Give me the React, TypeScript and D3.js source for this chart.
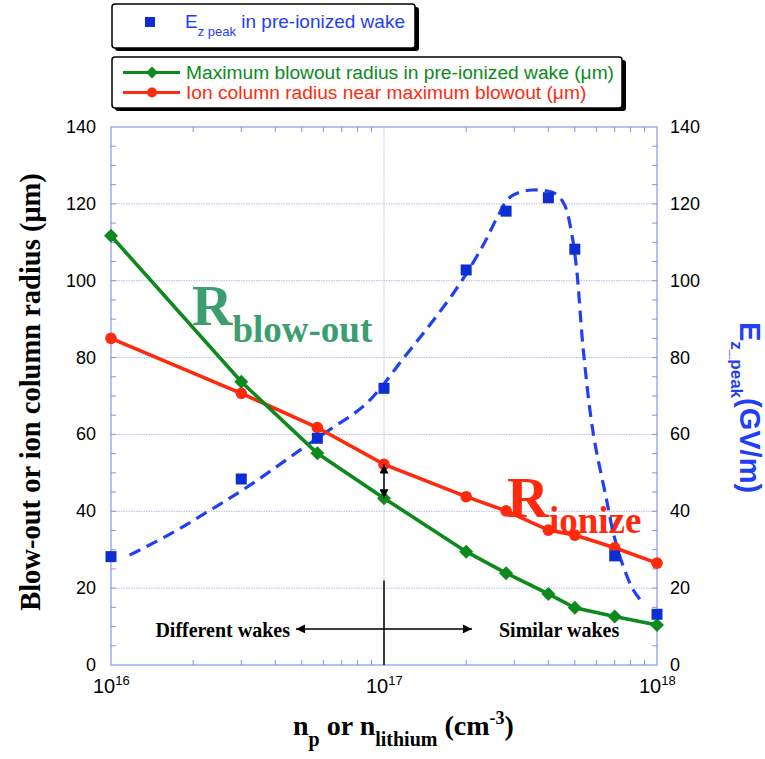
import React from "react";
import * as d3 from "d3";

// ---------- data ----------
const densities = [1e16, 3e16, 5.7e16, 1e17, 2e17, 2.8e17, 4e17, 5e17, 7e17, 1e18];
const blowoutRadius = [111.7, 73.7, 55.1, 43.4, 29.5, 23.9, 18.5, 14.9, 12.6, 10.4];
const ionColumnRadius = [85.0, 70.7, 61.8, 52.2, 43.8, 40.1, 35.1, 33.8, 30.5, 26.5];
const ezPeak = [28.2, 48.4, 59.0, 72.0, 102.8, 118.1, 121.6, 108.2, 28.4, 13.2];

// dashed guide curve through the E_z peak values
const fitDensities = [1.17e16, 1.67e16, 2.31e16, 3.23e16, 4.92e16, 6.17e16, 8.64e16, 1.19e17, 1.52e17, 1.9e17, 2.31e17, 2.6e17, 2.85e17, 3.1e17, 3.5e17, 3.94e17, 4.3e17, 4.6e17, 4.87e17, 5.08e17, 5.37e17, 5.84e17, 6.54e17, 6.92e17, 7.53e17, 8.19e17, 8.91e17];
const fitValues = [28.6, 34.3, 40.3, 46.8, 55.9, 60.7, 68.1, 80.2, 89.8, 99.3, 109.3, 116.5, 121.3, 122.9, 123.6, 123.4, 122.4, 119.5, 112.3, 102.8, 82.0, 60.3, 42.9, 34.3, 25.6, 19.5, 16.0];

const yTickValues = [0, 20, 40, 60, 80, 100, 120, 140];
const gridValues = [20, 40, 60, 80, 100, 120];
const decadeExponents = [16, 17, 18];

const W = 765;
const H = 759;
const PL = 111, PR = 657, PT = 127, PB = 665;

const GREEN = "#0c8a1c";
const RED = "#ff2a0e";
const BLUE = "#1f40f5";
const BLUE_SQ = "#0c2ed2";
const AXIS = "#8a94ea";
const GRID = "#b4bbf0";
const SANS = "'Liberation Sans', Arial, Helvetica, sans-serif";
const SERIF = "'Liberation Serif', 'Times New Roman', serif";

export default function App() {
  const x = d3.scaleLog().domain([1e16, 1e18]).range([PL, PR]);
  const y = d3.scaleLinear().domain([0, 140]).range([PB, PT]);

  const line = d3
    .line<[number, number]>()
    .x((d) => x(d[0]))
    .y((d) => y(d[1]));
  const fitLine = d3
    .line<[number, number]>()
    .x((d) => x(d[0]))
    .y((d) => y(d[1]))
    .curve(d3.curveCatmullRom.alpha(0.5));

  const green: [number, number][] = densities.map((d, i) => [d, blowoutRadius[i]]);
  const red: [number, number][] = densities.map((d, i) => [d, ionColumnRadius[i]]);
  const fit: [number, number][] = fitDensities.map((d, i) => [d, fitValues[i]]);

  // minor x ticks
  const xMinor: number[] = [];
  for (let e = 16; e < 18; e++) for (let m = 2; m <= 9; m++) xMinor.push(m * Math.pow(10, e));
  const yMinor = d3.range(5, 140, 5);

  const diamond = (cx: number, cy: number, r: number) =>
    `M${cx},${cy - r}L${cx + r},${cy}L${cx},${cy + r}L${cx - r},${cy}Z`;

  const arrowX1 = x(4.76e16);
  const arrowX2 = x(2.1e17);
  const arrowY = y(9.4);
  const x17 = x(1e17);

  return (
    <svg
      width={W}
      height={H}
      style={{ position: "absolute", left: 0, top: 0, background: "#fff" }}
      xmlns="http://www.w3.org/2000/svg"
    >
      <defs>
        <marker id="ah" viewBox="0 0 10 10" refX="10" refY="5" markerWidth="11" markerHeight="9" markerUnits="userSpaceOnUse" orient="auto-start-reverse">
          <path d="M0,0L10,5L0,10Z" fill="#000" />
        </marker>
      </defs>

      {/* Legend box 1 */}
      <rect x={115} y={7} width={304} height={44} rx={3} fill="#000" />
      <rect x={112} y={4} width={303} height={44} rx={3} fill="#fff" stroke="#000" strokeWidth={1.5} />
      <rect x={145} y={17} width={10} height={10} fill={BLUE_SQ} />
      <text x={185} y={28} fontFamily={SANS} fontSize={19} fill={BLUE}>
        E<tspan fontSize={13} dy={8}>z peak</tspan>
        <tspan dy={-8}> in pre-ionized wake</tspan>
      </text>

      {/* Legend box 2 */}
      <rect x={115} y={60} width={511} height={51} rx={3} fill="#000" />
      <rect x={112} y={57} width={510} height={51} rx={3} fill="#fff" stroke="#000" strokeWidth={1.5} />
      <line x1={123} x2={180} y1={72.5} y2={72.5} stroke={GREEN} strokeWidth={3} />
      <path d={diamond(152, 72.5, 6)} fill={GREEN} />
      <line x1={123} x2={180} y1={92.5} y2={92.5} stroke={RED} strokeWidth={3} />
      <circle cx={152} cy={92.5} r={5} fill={RED} />
      <text x={186} y={79} fontFamily={SANS} fontSize={19.2} fill={GREEN}>
        Maximum blowout radius in pre-ionized wake (μm)
      </text>
      <text x={186} y={99} fontFamily={SANS} fontSize={19.2} fill={RED}>
        Ion column radius near maximum blowout (μm)
      </text>

      {/* grid */}
      {gridValues.map((v) => (
        <line key={"g" + v} x1={PL} x2={PR} y1={y(v)} y2={y(v)} stroke={GRID} strokeWidth={1} strokeDasharray="1.5 1" />
      ))}
      <line x1={x17} x2={x17} y1={PT} y2={PB} stroke={GRID} strokeWidth={1} strokeDasharray="1.5 1" />

      {/* frame */}
      <rect x={PL} y={PT} width={PR - PL} height={PB - PT} fill="none" stroke={AXIS} strokeWidth={1.2} />
      {yMinor.map((v) => (
        <g key={"ym" + v}>
          <line x1={PL} x2={PL + 5} y1={y(v)} y2={y(v)} stroke={AXIS} strokeWidth={1} />
          <line x1={PR - 5} x2={PR} y1={y(v)} y2={y(v)} stroke={AXIS} strokeWidth={1} />
        </g>
      ))}
      {xMinor.map((v) => (
        <g key={"xm" + v}>
          <line x1={x(v)} x2={x(v)} y1={PB} y2={PB - 5} stroke={AXIS} strokeWidth={1} />
          <line x1={x(v)} x2={x(v)} y1={PT} y2={PT + 5} stroke={AXIS} strokeWidth={1} />
        </g>
      ))}

      {/* tick labels */}
      {yTickValues.map((v) => (
        <g key={"yl" + v}>
          <text x={96} y={y(v) + 6} textAnchor="end" fontFamily={SANS} fontSize={18} fill="#000">
            {v}
          </text>
          <text x={670} y={y(v) + 6} textAnchor="start" fontFamily={SANS} fontSize={18} fill="#000">
            {v}
          </text>
        </g>
      ))}
      {decadeExponents.map((e) => (
        <text key={"xl" + e} x={x(Math.pow(10, e)) - 18} y={693} fontFamily={SANS} fontSize={20} fill="#000">
          10<tspan fontSize={13} dy={-8}>{e}</tspan>
        </text>
      ))}

      {/* axis titles */}
      <text
        transform={`translate(40, 392) rotate(-90)`}
        textAnchor="middle"
        fontFamily={SERIF}
        fontWeight="bold"
        fontSize={28.5}
        fill="#000"
      >
        Blow-out or ion column radius (μm)
      </text>
      <text transform={`translate(740, 322) rotate(90)`} fontFamily={SANS} fontWeight="bold" fontSize={29} fill={BLUE}>
        E<tspan fontSize={17} dy={9}>z_peak</tspan>
        <tspan dy={-9}>(GV/m)</tspan>
      </text>
      <text x={293} y={735} fontFamily={SERIF} fontWeight="bold" fontSize={28} fill="#000">
        n<tspan fontSize={20} dy={11}>p</tspan>
        <tspan dy={-11}> or n</tspan>
        <tspan fontSize={20} dy={11}>lithium</tspan>
        <tspan dy={-11}> (cm</tspan>
        <tspan fontSize={18} dy={-11}>-3</tspan>
        <tspan dy={11}>)</tspan>
      </text>

      {/* big labels */}
      <text x={192} y={325} fontFamily={SERIF} fontWeight="bold" fontSize={56} fill="#3a9e6e">
        R<tspan fontSize={37} dy={17}>blow-out</tspan>
      </text>
      <text x={507} y={517} fontFamily={SERIF} fontWeight="bold" fontSize={58} fill={RED}>
        R<tspan fontSize={37} dy={16}>ionize</tspan>
      </text>

      {/* series */}
      <path d={fitLine(fit) || ""} fill="none" stroke={BLUE} strokeWidth={3.2} strokeDasharray="12 7" />
      <path d={line(red) || ""} fill="none" stroke={RED} strokeWidth={3.6} />
      <path d={line(green) || ""} fill="none" stroke={GREEN} strokeWidth={3.6} />
      {red.map((d, i) => (
        <circle key={"r" + i} cx={x(d[0])} cy={y(d[1])} r={5.8} fill={RED} />
      ))}
      {green.map((d, i) => (
        <path key={"gd" + i} d={diamond(x(d[0]), y(d[1]), 7)} fill={GREEN} />
      ))}
      {densities.map((d, i) => (
        <rect key={"b" + i} x={x(d) - 5.5} y={y(ezPeak[i]) - 5.5} width={11} height={11} fill={BLUE_SQ} />
      ))}

      {/* annotations */}
      <line x1={x17} x2={x17} y1={y(ionColumnRadius[3])} y2={y(blowoutRadius[3])} stroke="#000" strokeWidth={1.5} markerStart="url(#ah)" markerEnd="url(#ah)" />
      <line x1={x17} x2={x17} y1={y(22)} y2={PB} stroke="#000" strokeWidth={1.5} />
      <line x1={arrowX1} x2={arrowX2} y1={arrowY} y2={arrowY} stroke="#000" strokeWidth={1.5} markerStart="url(#ah)" markerEnd="url(#ah)" />
      <text x={290} y={637} textAnchor="end" fontFamily={SERIF} fontWeight="bold" fontSize={20} fill="#000">
        Different wakes
      </text>
      <text x={499} y={637} fontFamily={SERIF} fontWeight="bold" fontSize={20} fill="#000">
        Similar wakes
      </text>
    </svg>
  );
}
